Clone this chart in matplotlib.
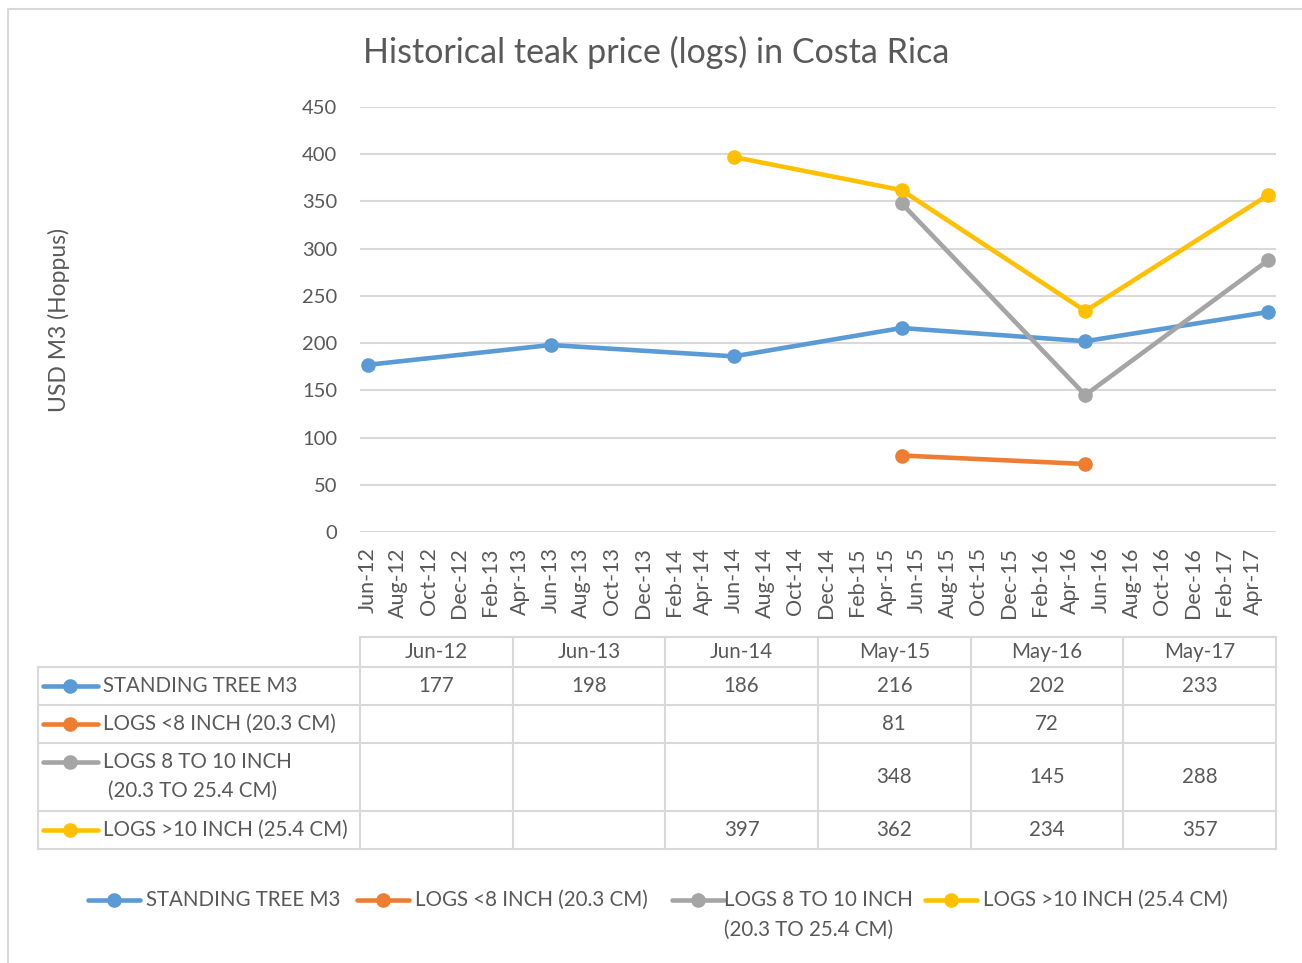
import numpy as np
import matplotlib.pyplot as plt
import matplotlib.dates as mdates
from datetime import datetime

plt.rcParams['font.family'] = ['Lato', 'DejaVu Sans']

# data
categories = ['Jun-12', 'Jun-13', 'Jun-14', 'May-15', 'May-16', 'May-17']
dates = [datetime(2012, 6, 1), datetime(2013, 6, 1), datetime(2014, 6, 1),
         datetime(2015, 5, 1), datetime(2016, 5, 1), datetime(2017, 5, 1)]
standing_tree = [177, 198, 186, 216, 202, 233]
logs_lt8 = [np.nan, np.nan, np.nan, 81, 72, np.nan]
logs_8to10 = [np.nan, np.nan, np.nan, 348, 145, 288]
logs_gt10 = [np.nan, np.nan, 397, 362, 234, 357]

series_names = ['STANDING TREE M3', 'LOGS <8 INCH (20.3 CM)',
                'LOGS 8 TO 10 INCH\n(20.3 TO 25.4 CM)', 'LOGS >10 INCH (25.4 CM)']
series_values = [standing_tree, logs_lt8, logs_8to10, logs_gt10]
colors = ['#5B9BD5', '#ED7D31', '#A5A5A5', '#FFC000']

txt = '#595959'
grid = '#D9D9D9'
W, H = 1302, 963
fs = 14.8  # table / legend text

fig = plt.figure(figsize=(W / 100, H / 100), dpi=100)

# pixel overlay for border, table and legend
ov = fig.add_axes([0, 0, 1, 1], zorder=-1)
ov.set_xlim(0, W)
ov.set_ylim(H, 0)
ov.axis('off')

ax = fig.add_axes([360 / W, 1 - 532 / H, (1276 - 360) / W, (532 - 107) / H])
for name, vals, c in zip(series_names, series_values, colors):
    ax.plot(dates, vals, color=c, lw=3.3, marker='o', ms=9.5,
            solid_capstyle='round')

ax.set_ylim(0, 450)
ax.set_yticks(range(0, 451, 50))
ax.set_xlim(datetime(2012, 5, 17), datetime(2017, 5, 16))
ax.xaxis.set_major_locator(mdates.MonthLocator(bymonth=(2, 4, 6, 8, 10, 12)))
ax.xaxis.set_major_formatter(mdates.DateFormatter('%b-%y'))
ax.tick_params(axis='x', rotation=90, length=0, labelsize=15.5, colors=txt, pad=11)
ax.tick_params(axis='y', length=0, labelsize=14.5, colors=txt, pad=16.5)
ax.grid(axis='y', color=grid, lw=1.5)
ax.set_axisbelow(True)
for s in ax.spines.values():
    s.set_visible(False)
ax.set_ylabel('USD M3 (Hoppus)', fontsize=16.5, color=txt, labelpad=0)
ax.yaxis.set_label_coords((70 - 360) / (1276 - 360), (532 - 320) / (532 - 107))

fig.text(656 / W, 1 - 52 / H, 'Historical teak price (logs) in Costa Rica',
         ha='center', va='center', fontsize=24.5, color=txt)

# outer border
ov.plot([8, 8, 1320], [980, 9, 9], color=grid, lw=1.5)

# data table
col_x = np.linspace(360, 1276, len(categories) + 1)
row_y = [637, 667, 705, 743, 811, 849]
tl = dict(color=grid, lw=1.5)
ov.plot([360, 1276], [row_y[0], row_y[0]], **tl)
for y in row_y[1:]:
    ov.plot([38, 1276], [y, y], **tl)
for x in col_x:
    ov.plot([x, x], [row_y[0], row_y[-1]], **tl)
ov.plot([38, 38], [row_y[1], row_y[-1]], **tl)

for i, cat in enumerate(categories):
    xc = (col_x[i] + col_x[i + 1]) / 2
    ov.text(xc, (row_y[0] + row_y[1]) / 2, cat, ha='center', va='center',
            fontsize=fs, color=txt)
    for r, vals in enumerate(series_values):
        v = vals[i]
        if not np.isnan(v):
            ov.text(xc, (row_y[r + 1] + row_y[r + 2]) / 2, f'{v:.0f}',
                    ha='center', va='center', fontsize=fs, color=txt)

for r, (name, c) in enumerate(zip(series_names, colors)):
    yc = (row_y[r + 1] + row_y[r + 2]) / 2
    lines = name.split('\n')
    if len(lines) > 1:
        yc = row_y[r + 1] + 19
    ov.plot([43, 98], [yc, yc], color=c, lw=3.3, solid_capstyle='round')
    ov.plot([70], [yc], 'o', color=c, ms=9.5)
    ov.text(103, yc, lines[0], ha='left', va='center', fontsize=fs, color=txt)
    if len(lines) > 1:
        ov.text(108, yc + 29, lines[1], ha='left', va='center', fontsize=fs,
                color=txt)

# legend
leg_x = [88, 357, 672, 925]
leg_y = 900
for lx, name, c in zip(leg_x, series_names, colors):
    ov.plot([lx, lx + 52], [leg_y, leg_y], color=c, lw=3.3, solid_capstyle='round')
    ov.plot([lx + 26], [leg_y], 'o', color=c, ms=9.5)
    lines = name.split('\n')
    tx = lx + 58 if len(lines) == 1 else lx + 52
    ov.text(tx, leg_y, lines[0], ha='left', va='center', fontsize=fs, color=txt)
    if len(lines) > 1:
        ov.text(tx, leg_y + 30, lines[1], ha='left', va='center',
                fontsize=fs, color=txt)

fig.savefig('out.png', dpi=100)
